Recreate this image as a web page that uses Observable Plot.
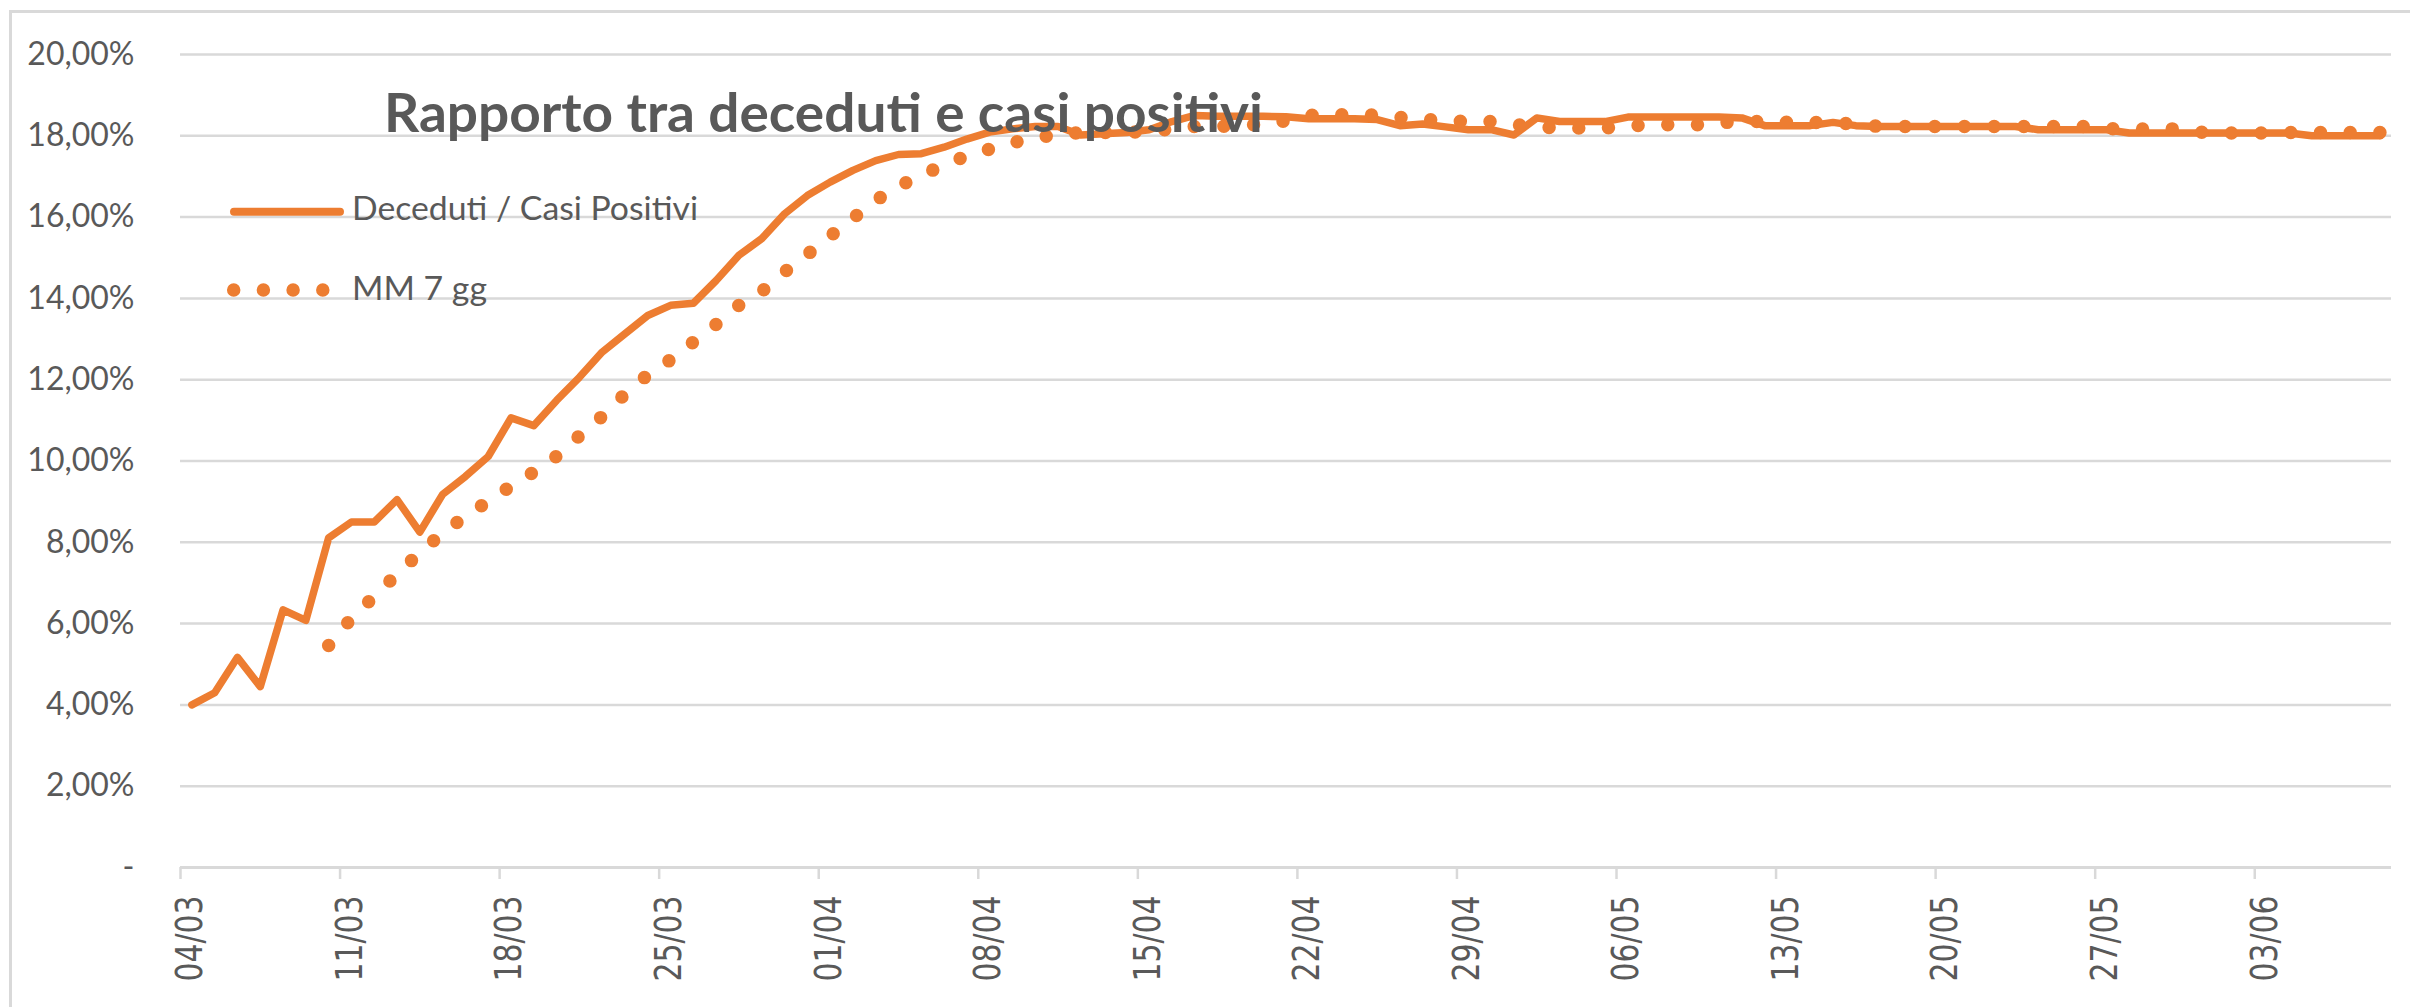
<!DOCTYPE html>
<html>
<head>
<meta charset="utf-8">
<script src="https://cdn.jsdelivr.net/npm/d3@7"></script>
<script src="https://cdn.jsdelivr.net/npm/@observablehq/plot@0.6"></script>
<style>
html, body { margin: 0; padding: 0; background: #fff; }
#wrap { position: relative; width: 2410px; height: 1007px; overflow: hidden; }
#frame { position: absolute; left: 9px; top: 10px; width: 2430px; height: 1030px; border-left: 3px solid #D9D9D9; border-top: 3px solid #D9D9D9; box-sizing: border-box; pointer-events: none; }
#overlay { position: absolute; left: 0; top: 0; pointer-events: none; }
</style>
</head>
<body>
<div id="wrap"></div>
<script>
// ---- data ----
const title = "Rapporto tra deceduti e casi positivi";
const seriesNames = ["Deceduti / Casi Positivi", "MM 7 gg"];
const startDay = "04/03/2020";
const tickLabels = ["04/03","11/03","18/03","25/03","01/04","08/04","15/04","22/04","29/04","06/05","13/05","20/05","27/05","03/06"];
const yTicks = [0, 2, 4, 6, 8, 10, 12, 14, 16, 18, 20];

// Deceduti / Casi Positivi (%), daily from 04/03
const ratio = [
  4.00, 4.30, 5.17, 4.45, 6.34, 6.08, 8.11, 8.50, 8.50, 9.05,
  8.25, 9.18, 9.62, 10.11, 11.06, 10.87, 11.49, 12.06, 12.68, 13.13,
  13.58, 13.83, 13.88, 14.44, 15.06, 15.47, 16.08, 16.53, 16.86, 17.15,
  17.39, 17.54, 17.56, 17.72, 17.92, 18.09, 18.17, 18.23, 18.23, 18.02,
  18.05, 18.08, 18.15, 18.35, 18.50, 18.48, 18.48, 18.48, 18.47, 18.42,
  18.42, 18.42, 18.40, 18.25, 18.29, 18.22, 18.15, 18.15, 18.02, 18.44,
  18.35, 18.35, 18.35, 18.46, 18.46, 18.46, 18.46, 18.46, 18.44, 18.25,
  18.25, 18.25, 18.33, 18.25, 18.23, 18.23, 18.23, 18.23, 18.23, 18.23,
  18.23, 18.15, 18.15, 18.15, 18.15, 18.07, 18.07, 18.07, 18.07, 18.07,
  18.07, 18.07, 18.07, 18.00, 18.00, 18.00, 18.00
];

// MM 7 gg (%), same days (first six days have no value)
const ma = [
  null, null, null, null, null, null, 5.46, 6.13, 6.67, 7.22,
  7.74, 8.23, 8.64, 9.01, 9.38, 9.73, 10.12, 10.62, 11.10, 11.65,
  12.12, 12.49, 12.93, 13.36, 13.83, 14.17, 14.65, 15.08, 15.53, 15.97,
  16.41, 16.76, 17.03, 17.28, 17.51, 17.67, 17.83, 17.95, 18.03, 18.08,
  18.08, 18.08, 18.11, 18.17, 18.23, 18.23, 18.25, 18.29, 18.37, 18.50,
  18.52, 18.52, 18.51, 18.45, 18.41, 18.37, 18.35, 18.35, 18.28, 18.22,
  18.19, 18.19, 18.19, 18.24, 18.27, 18.27, 18.27, 18.32, 18.35, 18.35,
  18.33, 18.33, 18.32, 18.29, 18.23, 18.23, 18.23, 18.23, 18.23, 18.23,
  18.23, 18.23, 18.23, 18.23, 18.18, 18.16, 18.17, 18.17, 18.09, 18.07,
  18.07, 18.07, 18.08, 18.08, 18.08, 18.08, 18.08
];

// ---- build ----
const parseDay = d3.utcParse("%d/%m/%Y");
const start = parseDay(startDay);
const end = d3.utcDay.offset(start, ratio.length);
const days = d3.utcDay.range(start, end);
const rows = days.map((d, i) => ({date: d3.utcHour.offset(d, 12), ratio: ratio[i], ma: ma[i]}));
const xTicks = tickLabels.map(s => parseDay(s + "/2020"));
const fmtY = v => v === 0 ? "-" : v.toFixed(2).replace(".", ",") + "%";
const orange = "#ED7D31";
const grey = "#595959";
const gridC = "#D9D9D9";

const chart = Plot.plot({
  width: 2410,
  height: 1007,
  marginLeft: 180,
  marginRight: 19,
  marginTop: 54,
  marginBottom: 140,
  style: {fontFamily: "Lato", background: "transparent", overflow: "visible"},
  x: {type: "utc", domain: [start, end], label: null},
  y: {domain: [0, 20], label: null},
  marks: [
    Plot.gridY(yTicks.filter(v => v > 0), {stroke: gridC, strokeOpacity: 1, strokeWidth: 2.5}),
    Plot.ruleY([0], {stroke: gridC, strokeWidth: 3}),
    Plot.axisY(yTicks, {tickSize: 0, tickPadding: 46, tickFormat: fmtY, fontSize: 32, fill: grey, label: null}),
    Plot.axisX(xTicks, {tickSize: 12, tickFormat: () => "", stroke: gridC, strokeWidth: 2.5, strokeOpacity: 1, label: null}),
    Plot.axisX(xTicks, {tickSize: 0, tickPadding: 28, tickRotate: -90, dx: 10, tickFormat: d3.utcFormat("%d/%m"), fontSize: 37, fontFamily: "DejaVu Sans", fill: grey, label: null}),
    Plot.lineY(rows, {x: "date", y: "ratio", stroke: orange, strokeWidth: 7.5, strokeLinejoin: "round", strokeLinecap: "round"}),
    Plot.lineY(rows.filter(d => d.ma != null), {x: "date", y: "ma", stroke: orange, strokeWidth: 13.5, strokeDasharray: "0 29.7", strokeLinecap: "round", strokeLinejoin: "round"})
  ]
});

const wrap = document.getElementById("wrap");
wrap.appendChild(chart);
d3.select(chart).selectAll('g[aria-label="x-axis tick label"] text')
  .attr("textLength", 86).attr("lengthAdjust", "spacingAndGlyphs");

const frame = document.createElement("div");
frame.id = "frame";
wrap.appendChild(frame);

// title + legend overlay
const ov = d3.select(wrap).append("svg").attr("id", "overlay").attr("width", 2410).attr("height", 1007);
ov.append("text").attr("x", 384).attr("y", 132)
  .attr("font-family", "Lato").attr("font-weight", 700).attr("font-size", 53).attr("fill", grey)
  .attr("textLength", 879).attr("lengthAdjust", "spacingAndGlyphs").text(title);
ov.append("line").attr("x1", 234).attr("x2", 340).attr("y1", 211.7).attr("y2", 211.7)
  .attr("stroke", orange).attr("stroke-width", 8).attr("stroke-linecap", "round");
ov.append("text").attr("x", 352).attr("y", 220)
  .attr("font-family", "Lato").attr("font-size", 32).attr("fill", grey)
  .attr("textLength", 346).attr("lengthAdjust", "spacingAndGlyphs").text(seriesNames[0]);
ov.append("line").attr("x1", 233.7).attr("x2", 323).attr("y1", 290).attr("y2", 290)
  .attr("stroke", orange).attr("stroke-width", 13.5).attr("stroke-linecap", "round").attr("stroke-dasharray", "0 29.7");
ov.append("text").attr("x", 352).attr("y", 300)
  .attr("font-family", "Lato").attr("font-size", 32).attr("fill", grey)
  .attr("textLength", 135).attr("lengthAdjust", "spacingAndGlyphs").text(seriesNames[1]);
</script>
</body>
</html>
